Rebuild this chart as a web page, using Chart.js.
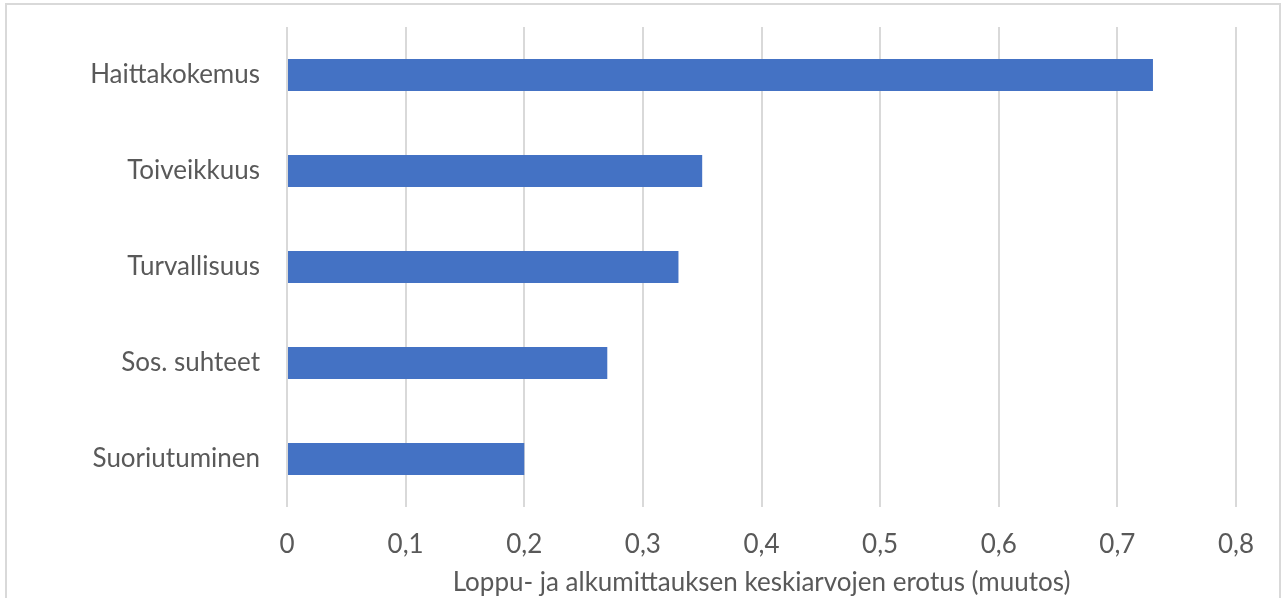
<!DOCTYPE html>
<html>
<head>
<meta charset="utf-8">
<script src="https://cdn.jsdelivr.net/npm/chart.js@4/dist/chart.umd.min.js"></script>
<style>
    html, body { margin: 0; padding: 0; background: #fff; overflow: hidden; }
    .frame { position: absolute; left: 5px; top: 3px; width: 1272px; height: 620px; border: 2px solid #d9d9d9; }
    .chart { position: absolute; left: 0; top: 0; width: 1281px; height: 598px; }
</style>
</head>
<body>
<div class="frame"></div>
<div class="chart"><canvas id="chart" width="1281" height="598"></canvas></div>
<script>
const categories = ['Haittakokemus', 'Toiveikkuus', 'Turvallisuus', 'Sos. suhteet', 'Suoriutuminen'];
const muutos = [0.73, 0.35, 0.33, 0.27, 0.20];
const xTicks = [0, 0.1, 0.2, 0.3, 0.4, 0.5, 0.6, 0.7, 0.8];
const xTitle = 'Loppu- ja alkumittauksen keskiarvojen erotus (muutos)';

let ctx = document.getElementById('chart').getContext('2d');
let ch = new Chart(ctx, {
    type: 'bar',
    data: {
        labels: categories,
        datasets: [{
            label: 'muutos',
            data: muutos,
            backgroundColor: '#4472C4',
            borderWidth: 0,
            categoryPercentage: 1,
            barPercentage: 0.333
        }]
    },
    options: {
        indexAxis: 'y',
        responsive: false,
        animation: false,
        layout: { padding: { left: 0, right: 45, top: 27, bottom: 0 } },
        plugins: { legend: { display: false }, tooltip: { enabled: false } },
        scales: {
            x: {
                min: 0,
                max: 0.8,
                afterBuildTicks: axis => { axis.ticks = xTicks.map(v => ({ value: v })); },
                afterFit: axis => { axis.height = 91; },
                grid: { color: '#d9d9d9', lineWidth: 2, drawTicks: false },
                border: { display: false },
                ticks: {
                    padding: 22,
                    color: '#595959',
                    font: { family: 'Lato', size: 26 },
                    callback: v => String(Math.round(v * 10) / 10).replace('.', ',')
                },
                title: {
                    display: true,
                    text: xTitle,
                    color: '#595959',
                    font: { family: 'Lato', size: 26 },
                    padding: { top: 0, bottom: 0 }
                }
            },
            y: {
                afterFit: axis => {
                    axis.width = 287;
                    axis.paddingTop = 0;
                    axis.paddingBottom = 0;
                },
                grid: { display: false, drawTicks: false },
                border: { display: false },
                ticks: {
                    padding: 27,
                    color: '#595959',
                    font: { family: 'Lato', size: 26 }
                }
            }
        }
    }
});
</script>
</body>
</html>
